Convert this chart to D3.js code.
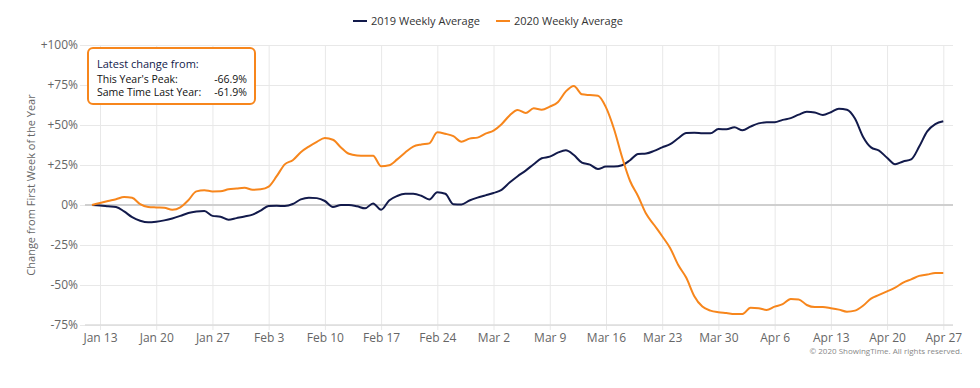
<!DOCTYPE html>
<html>
<head>
<meta charset="utf-8">
<script src="https://cdn.jsdelivr.net/npm/d3@7"></script>
<style>
  body { margin: 0; background: #fff; font-family: "Open Sans", sans-serif; }
  svg text { font-family: "Open Sans", sans-serif; }
  .grid line { stroke: #e8e8e8; }
  .grid path { display: none; }
  .axis path { display: none; }
  .axis line { stroke: #e0e0e0; }
  .axis text { fill: #666; font-size: 12px; }
</style>
</head>
<body>
<svg class="chart" width="980" height="388"></svg>
<script>
// daily points, first one is Jan 12 2020
const firstDay = new Date(2020, 0, 12)

const values2019 = [
  0, -0.3, -0.8, -1.3, -4, -7.6, -9.8, -10.8, -10.4, -9.6, -8.4, -6.8, -5, -4.1, -3.8,
  -6.8, -7.3, -9.2, -8.2, -7.2, -6, -3.5, -0.6, -0.5, -0.6, 0.6, 3.5, 4.6, 4.3, 2.5,
  -1.2, 0, 0, -0.8, -2.1, 1, -3, 2.8, 5.6, 7, 7, 5.8, 3.5, 8, 7,
  0.5, 0.3, 2.8, 4.6, 6, 7.5, 9.5, 14, 18, 21.5, 25.5, 29.2, 30.2, 32.7, 34.2,
  31.2, 26.5, 25.2, 22.5, 24, 24, 24.8, 28, 31.9, 32.2, 33.8, 36, 38, 41.7, 45,
  45.2, 44.9, 44.8, 47.5, 47.3, 48.6, 46.7, 49, 51, 51.7, 51.7, 53.2, 54.3, 56.5, 58.3,
  57.8, 56.3, 58, 60.2, 59.5, 54, 42.7, 36, 34, 29.5, 25.5, 27.2, 28.5, 36.5, 46,
  50.5, 52.3
]

const values2020 = [
  0, 1.3, 2.5, 3.6, 5, 4.5, 0.5, -1.2, -1.5, -1.7, -3, -1.5, 3, 8.5, 9.2,
  8.5, 8.6, 9.8, 10.3, 10.8, 9.5, 9.8, 11.5, 18, 25.4, 28, 33, 36.5, 39.5, 41.8,
  40.8, 36, 32, 31, 30.8, 30.8, 24.2, 24.8, 28.5, 32.8, 36.5, 37.8, 38.5, 45.4, 44.5,
  43, 39.6, 41.5, 42.1, 44.6, 46.5, 50.5, 56, 59.4, 57.5, 60.4, 59.6, 61.5, 64.2, 71,
  74.4, 69.2, 68.7, 68.3, 61, 47.5, 30, 15, 5.5, -5.5, -12.5, -19.5, -27, -37.5, -45.5,
  -57, -63.5, -66, -67, -67.5, -68.1, -68.1, -64.2, -64.5, -65.6, -63.5, -62, -58.8, -59, -62.5,
  -63.8, -63.8, -64.5, -65.4, -66.7, -66, -63, -58.5, -56.2, -54, -51.7, -48.5, -46.5, -44.3, -43.5,
  -42.5, -42.5
]

const seriesNames = ["2019 Weekly Average", "2020 Weekly Average"]
const seriesColors = ["#121a4b", "#f7861c"]

const yTicks = [-75, -50, -25, 0, 25, 50, 75, 100]
const xTickLabels = ["Jan 13", "Jan 20", "Jan 27", "Feb 3", "Feb 10", "Feb 17", "Feb 24",
  "Mar 2", "Mar 9", "Mar 16", "Mar 23", "Mar 30", "Apr 6", "Apr 13", "Apr 20", "Apr 27"]

const boxTitle = "Latest change from:"
const boxRows = [["This Year's Peak:", "-66.9%"], ["Same Time Last Year:", "-61.9%"]]

const LEFT = 85, RIGHT = 953, TOP = 45, BOTTOM = 325

const svg = d3.select('svg.chart')

const dayOf = i => d3.timeDay.offset(firstDay, i)
const xTickDates = xTickLabels.map(s => d3.timeParse("%b %d %Y")(s + " 2020"))

// scales
const xScale = d3.scaleTime()
  .domain([xTickDates[0], xTickDates[xTickDates.length - 1]])
  .range([100, 943.3])

const yScale = d3.scaleLinear()
  .domain([-75, 100])
  .range([BOTTOM, TOP])

// horizontal grid
svg.append('g')
  .attr('class', 'grid')
  .attr('transform', `translate(${LEFT - 5}, 0)`)
  .call(d3.axisRight(yScale).tickValues(yTicks).tickSize(RIGHT - LEFT + 5).tickFormat(''))

// vertical grid
svg.append('g')
  .attr('class', 'grid')
  .attr('transform', `translate(0, ${BOTTOM + 5})`)
  .call(d3.axisTop(xScale).tickValues(xTickDates).tickSize(BOTTOM - TOP + 5).tickFormat(''))

// zero line
svg.append('line')
  .attr('x1', LEFT).attr('x2', RIGHT)
  .attr('y1', yScale(0)).attr('y2', yScale(0))
  .style('stroke', '#cfcfcf').style('stroke-width', 2)

// bottom axis line
svg.append('line')
  .attr('x1', LEFT).attr('x2', RIGHT)
  .attr('y1', BOTTOM).attr('y2', BOTTOM)
  .style('stroke', '#dcdcdc').style('stroke-width', 1.5)

// y axis labels
svg.append('g')
  .attr('class', 'axis')
  .attr('transform', `translate(${LEFT - 5}, 0)`)
  .call(d3.axisLeft(yScale).tickValues(yTicks).tickSize(0).tickPadding(2)
    .tickFormat(d => d > 0 ? `+${d}%` : `${d}%`))

// x axis labels
svg.append('g')
  .attr('class', 'axis')
  .attr('transform', `translate(0, ${BOTTOM + 5})`)
  .call(d3.axisBottom(xScale).tickValues(xTickDates).tickSize(0).tickPadding(3)
    .tickFormat((d, i) => xTickLabels[i]))
  .selectAll('text').style('font-size', '12px')

// y label
svg.append('text')
  .attr('transform', 'rotate(-90)')
  .attr('x', -185)
  .attr('y', 35)
  .attr('text-anchor', 'middle')
  .style('font-size', '11px')
  .style('fill', '#666')
  .text('Change from First Week of the Year')

// lines
const line = d3.line()
  .x((d, i) => xScale(dayOf(i)))
  .y(d => yScale(d))
  .curve(d3.curveMonotoneX)

;[values2019, values2020].forEach((vals, k) => {
  svg.append('path')
    .attr('d', line(vals))
    .style('fill', 'none')
    .style('stroke', seriesColors[k])
    .style('stroke-width', 2)
    .style('stroke-linejoin', 'round')
})

// legend
const legendX = [353, 496]
seriesNames.forEach((name, k) => {
  const g = svg.append('g').attr('transform', `translate(${legendX[k]}, 21)`)
  g.append('line')
    .attr('x1', 0).attr('x2', 14)
    .style('stroke', seriesColors[k]).style('stroke-width', 2)
  g.append('text')
    .attr('x', 18).attr('y', 4)
    .style('font-size', '11px')
    .style('fill', '#333')
    .text(name)
})

// info box
const box = svg.append('g').attr('transform', 'translate(88, 48)')
box.append('rect')
  .attr('width', 167).attr('height', 56)
  .attr('rx', 5)
  .style('fill', '#fff')
  .style('stroke', '#f7861c')
  .style('stroke-width', 2)
box.append('text')
  .attr('x', 9).attr('y', 20)
  .style('font-size', '11px')
  .style('fill', '#121a4b')
  .text(boxTitle)
boxRows.forEach((r, i) => {
  box.append('text')
    .attr('x', 9).attr('y', 35 + i * 13)
    .style('font-size', '10.5px').style('fill', '#111')
    .text(r[0])
  box.append('text')
    .attr('x', 159).attr('y', 35 + i * 13)
    .attr('text-anchor', 'end')
    .style('font-size', '10.5px').style('fill', '#111')
    .text(r[1])
})

// credit
svg.append('text')
  .attr('x', 962).attr('y', 354)
  .attr('text-anchor', 'end')
  .style('font-size', '8px')
  .style('fill', '#888')
  .text('© 2020 ShowingTime. All rights reserved.')
</script>
</body>
</html>
